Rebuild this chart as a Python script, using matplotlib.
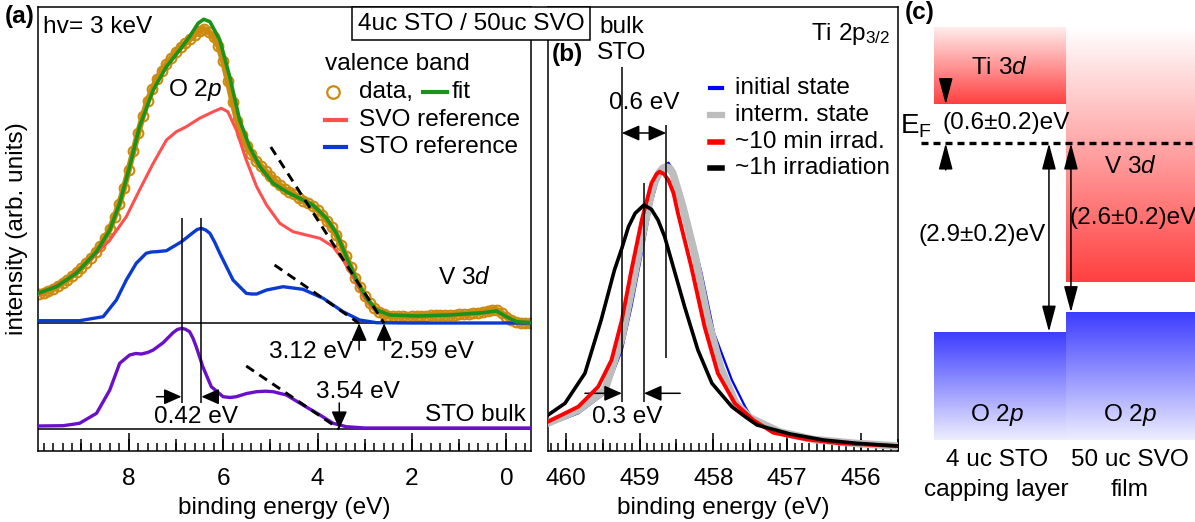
import numpy as np
import matplotlib
matplotlib.use('Agg')
import matplotlib.pyplot as plt
from matplotlib.colors import LinearSegmentedColormap
from matplotlib.patches import Rectangle
from matplotlib.ticker import MultipleLocator

plt.rcParams['font.family'] = ['Liberation Sans', 'DejaVu Sans']
plt.rcParams['font.size'] = 17.6
plt.rcParams['mathtext.fontset'] = 'custom'
plt.rcParams['mathtext.rm'] = 'Liberation Sans'
plt.rcParams['mathtext.it'] = 'Liberation Sans:italic'
plt.rcParams['mathtext.bf'] = 'Liberation Sans:bold'

# ---------------- (a) valence band ----------------
vb_data_E = [9.9, 9.8, 9.7, 9.6, 9.5, 9.4, 9.3, 9.2, 9.1, 9.0, 8.9, 8.8, 8.7, 8.6, 8.5, 8.4,
             8.3, 8.2, 8.1, 8.0, 7.9, 7.8, 7.7, 7.6, 7.5, 7.4, 7.3, 7.2, 7.1, 7.0, 6.9, 6.8,
             6.7, 6.6, 6.5, 6.4, 6.3, 6.2, 6.1, 6.0, 5.9, 5.8, 5.7, 5.6, 5.5, 5.4, 5.3, 5.2,
             5.1, 5.0, 4.9, 4.8, 4.7, 4.6, 4.5, 4.4, 4.3, 4.2, 4.1, 4.0, 3.9, 3.8, 3.7, 3.6,
             3.5, 3.4, 3.3, 3.2, 3.1, 3.0, 2.9, 2.8, 2.7, 2.6, 2.5, 2.4, 2.3, 2.2, 2.1, 2.0,
             1.9, 1.8, 1.7, 1.6, 1.5, 1.4, 1.3, 1.2, 1.1, 1.0, 0.9, 0.8, 0.7, 0.6, 0.5, 0.4,
             0.3, 0.2, 0.1, 0.0, -0.1, -0.2, -0.3, -0.4, -0.5]
vb_data_I = [157, 158, 160, 162, 165, 168, 171, 175, 179, 183, 188, 193, 199, 205, 213, 222,
             234, 247, 263, 281, 300, 318, 335, 350, 362, 372, 380, 387, 393, 399, 404, 408,
             412, 416, 420, 422, 419, 414, 405, 390, 370, 349, 330, 316, 305, 297, 290, 285,
             280, 275, 270, 266, 262, 259, 257, 253, 250, 248, 245, 241, 236, 230, 224, 216,
             206, 195, 184, 173, 164, 155, 148, 143, 139, 137, 135, 135, 135, 135, 134, 135,
             135, 135, 135, 136, 136, 136, 136, 136, 136, 137, 137, 137, 138, 138, 139, 140,
             141, 141, 138, 134, 131, 129, 128, 128, 128]

fit_E = [9.92, 9.53, 9.11, 8.68, 8.40, 8.19, 7.98, 7.77, 7.48, 7.20, 6.92, 6.71, 6.53, 6.41,
         6.28, 6.07, 5.86, 5.65, 5.44, 5.22, 4.94, 4.66, 4.38, 4.10, 3.81, 3.60, 3.39, 3.18,
         2.96, 2.75, 2.47, 1.90, 1.20, 0.49, 0.21, 0.00, -0.21, -0.52]
fit_I = [157.7, 164.3, 177.7, 199.3, 221, 247.7, 284.3, 324.3, 361, 384.3, 401, 414.3, 427.7,
         431.7, 429.3, 411, 374.3, 331, 304.3, 284.3, 267.7, 259.3, 252.7, 246, 232.7, 217.7,
         194.3, 171, 152.7, 141, 136, 135, 136, 138.3, 140, 134.3, 129.3, 128.3]

svo_E = [9.92, 9.32, 8.82, 8.40, 8.05, 7.77, 7.48, 7.20, 6.99, 6.78, 6.50, 6.21, 6.04, 5.90,
         5.72, 5.51, 5.29, 5.08, 4.80, 4.52, 4.24, 3.95, 3.67, 3.46, 3.25, 3.04, 2.82, 2.47,
         1.90, 1.20, 0.49, 0.21, 0.00, -0.21, -0.52]
svo_I = [156, 171, 191, 211, 234.3, 261, 287.7, 311, 319.3, 324.3, 332.7, 339.3, 342.7, 339.3,
         321, 291, 264.3, 246, 227.7, 219.3, 216, 212.7, 204.3, 191, 174.3, 156, 142.7, 136,
         135, 136, 138.3, 140, 134.3, 129.3, 128.3]

sto_ref_E = [9.92, 9.04, 8.54, 8.26, 8.05, 7.84, 7.63, 7.52, 7.41, 7.20, 6.88, 6.64, 6.55,
             6.46, 6.37, 6.28, 6.18, 6.07, 5.79, 5.51, 5.40, 5.29, 5.08, 4.73, 4.31, 3.88,
             3.46, 3.11, 2.75, 2.0, 1.0, 0.0, -0.52]
sto_ref_I = [130.3, 130.3, 134.3, 151, 171, 187.7, 197.7, 199, 199.3, 200.3, 209.3, 218.3,
             221.5, 222.7, 221, 217.7, 209, 197.7, 171, 157.7, 157, 157, 161, 164.3, 161.7,
             152.7, 139.3, 131, 128.3, 128, 128, 128, 128]

sto_bulk_E = [9.92, 9.39, 9.04, 8.68, 8.40, 8.19, 7.98, 7.85, 7.73, 7.60, 7.48, 7.27, 7.06,
              6.97, 6.88, 6.80, 6.71, 6.64, 6.57, 6.43, 6.25, 6.00, 5.85, 5.72, 5.50, 5.29,
              5.10, 4.94, 4.66, 4.31, 3.95, 3.67, 3.39, 3.0, 2.0, 1.0, 0.0, -0.52]
sto_bulk_I = [25, 25.3, 27.7, 37.7, 61, 87.7, 96, 97.5, 97, 98.5, 101, 108.3, 118.3, 121.5,
              122.7, 121.8, 119.3, 113, 104.3, 84.3, 64.3, 54.3, 53.5, 54.3, 57.5, 59.3, 59.8,
              59.3, 56, 46, 36, 27.7, 24.3, 23, 23, 23, 23, 23]

film_base = 127.7      # zero line under the film / reference spectra
bulk_base = 22.0       # zero line under the STO bulk spectrum

vbm_film = 2.59        # leading edge of film valence band
vbm_sto_ref = 3.12
vbm_sto_bulk = 3.54
film_tangent_top = (4.99, 304.0)
sto_ref_tangent_top = (4.91, 186.0)
sto_bulk_tangent_top = (5.51, 85.0)

peak_bulk = 6.88
peak_shift = 0.42

# ---------------- (b) Ti 2p3/2 ----------------
ti_1h_E = [460.24, 460.01, 459.74, 459.52, 459.34, 459.24, 459.15, 459.06, 458.94, 458.84,
           458.75, 458.66, 458.57, 458.39, 458.21, 458.02, 457.75, 457.57, 457.41, 456.96,
           456.51, 456.06, 455.51]
ti_1h_I = [36, 47.7, 77.7, 131, 181, 202.7, 224.3, 237.7, 246, 241.7, 231, 214.3, 191, 144.3,
           101, 67.7, 44.3, 34.3, 26, 17, 11, 7.7, 5]

ti_10min_E = [460.24, 459.83, 459.56, 459.38, 459.24, 459.11, 458.97, 458.84, 458.77, 458.73,
              458.67, 458.61, 458.54, 458.48, 458.30, 458.12, 457.94, 457.71, 457.46, 457.19,
              456.74, 456.29, 455.51]
ti_10min_I = [29.3, 44.3, 64.3, 91, 131, 181, 231, 267.7, 277, 279.3, 277, 271, 257.7, 237.7,
              184.3, 124.3, 77.7, 47.7, 31, 18.3, 11.7, 7.7, 5]

ti_init_E = [460.24, 459.83, 459.47, 459.24, 459.11, 458.97, 458.84, 458.73, 458.67, 458.61,
             458.54, 458.48, 458.35, 458.16, 457.99, 457.75, 457.57, 457.46, 457.10, 456.65,
             456.06, 455.51]
ti_init_I = [26, 37.7, 57.7, 101, 144.3, 197.7, 247.7, 277.7, 285, 288.3, 281, 267.7, 234.3,
             177.7, 117.7, 71, 44.3, 31, 19.3, 11.7, 7, 5]

ti_interm_E = [460.24, 459.83, 459.47, 459.24, 459.11, 458.97, 458.84, 458.80, 458.73, 458.68,
               458.64, 458.60, 458.55, 458.42, 458.25, 458.08, 457.90, 457.70, 457.50, 457.10,
               456.65, 456.06, 455.51]
ti_interm_I = [28, 41, 61, 113, 161, 213, 258, 268, 279, 283, 284, 283, 278, 246, 196, 133,
               83, 48, 33, 19, 11.5, 7.5, 5]

ti_bulk = 459.24
ti_shift_init = 0.6
ti_shift_1h = 0.3

# ---------------- (c) band diagram (eV, E_F = 0) ----------------
ti3d_offset = 0.6
vbo_cap = 2.9
vbo_film = 2.6

W, H = 1195, 522
orange = '#cc8a0e'
green = '#1a931a'
svo_red = '#ff5050'
sto_blue = '#0a3ad0'
purple = '#6a10c8'


def px_box(left, top, right, bottom):
    return [left / W, 1 - bottom / H, (right - left) / W, (bottom - top) / H]


def arrow(ax, start, end, style='-|>'):
    ax.annotate('', xy=end, xytext=start,
                arrowprops=dict(arrowstyle=style + ',head_length=0.43,head_width=0.19',
                                mutation_scale=25, lw=1.1, color='k',
                                shrinkA=0, shrinkB=0))


def energy_ticks(ax, major, medium, minor):
    ax.xaxis.set_major_locator(MultipleLocator(major))
    ax.xaxis.set_minor_locator(MultipleLocator(minor))
    ax.tick_params(axis='x', which='major', direction='in', length=13, width=1.1, pad=12)
    ax.tick_params(axis='x', which='minor', direction='in', length=5.5, width=1.1)
    ax.set_yticks([])
    sec = ax.secondary_xaxis('bottom')
    sec.xaxis.set_major_locator(MultipleLocator(medium))
    sec.tick_params(direction='in', length=8.5, width=1.1, labelbottom=False)
    sec.spines['bottom'].set_visible(False)
    for s in ax.spines.values():
        s.set_linewidth(1.1)


fig = plt.figure(figsize=(W / 100, H / 100), dpi=100)

# ================= panel (a) =================
ax = fig.add_axes(px_box(38, 7, 531, 451))
ax.set_xlim(9.92, -0.52)
ax.set_ylim(0, 444)
energy_ticks(ax, 2, 1, 0.2)
ax.set_xlabel('binding energy (eV)', labelpad=5)

ax.axhline(film_base, color='k', lw=1.1, zorder=1)
ax.axhline(bulk_base, color='k', lw=1.1, zorder=1)

ax.plot(vb_data_E, vb_data_I, color=orange, lw=4.5, zorder=2)
ax.plot(vb_data_E, vb_data_I, 'o', ms=7, mfc='none', mec=orange, mew=1.5, zorder=2)
ax.plot(svo_E, svo_I, color=svo_red, lw=2.2, zorder=3)
ax.plot(fit_E, fit_I, color=green, lw=2.6, zorder=4)
ax.plot(sto_ref_E, sto_ref_I, color=sto_blue, lw=2.4, zorder=3)
ax.plot(sto_bulk_E, sto_bulk_I, color=purple, lw=2.4, zorder=3)

dash = (0, (3.2, 2.2))
ax.plot([film_tangent_top[0], vbm_film], [film_tangent_top[1], film_base],
        color='k', lw=2.1, ls=dash, zorder=5)
ax.plot([sto_ref_tangent_top[0], vbm_sto_ref], [sto_ref_tangent_top[1], film_base],
        color='k', lw=2.1, ls=dash, zorder=5)
ax.plot([sto_bulk_tangent_top[0], vbm_sto_bulk], [sto_bulk_tangent_top[1], bulk_base],
        color='k', lw=2.1, ls=dash, zorder=5)

arrow(ax, (vbm_sto_ref, 101), (vbm_sto_ref, film_base))
arrow(ax, (vbm_film, 101), (vbm_film, film_base))
arrow(ax, (vbm_sto_bulk, 48), (vbm_sto_bulk, bulk_base))
ax.text(vbm_sto_ref + 0.12, 99, '%.2f eV' % vbm_sto_ref, ha='right', va='center')
ax.text(vbm_film - 0.12, 99, '%.2f eV' % vbm_film, ha='left', va='center')
ax.text(3.15, 59, '%.2f eV' % vbm_sto_bulk, ha='center', va='center')

peak_film = peak_bulk - peak_shift
ax.vlines([peak_bulk, peak_film], 48, 233, color='k', lw=1.1, zorder=6)
arrow(ax, (7.41, 54.3), (peak_bulk, 54.3))
arrow(ax, (6.14, 54.3), (peak_film, 54.3))
ax.text(6.57, 34, '%.2f eV' % peak_shift, ha='center', va='center')

ax.text(6.60, 361, 'O 2$p$', ha='center', va='center')
ax.text(0.88, 173, 'V 3$d$', ha='center', va='center')
ax.text(0.99, 0.081, 'STO bulk', transform=ax.transAxes, ha='right', va='center')
ax.text(0.01, 0.955, 'hv= 3 keV', transform=ax.transAxes, ha='left', va='center')

# hand-built legend
ax.text(0.582, 0.872, 'valence band', transform=ax.transAxes, ha='left', va='center')
ax.plot([0.598], [0.809], 'o', ms=9, mfc='none', mec=orange, mew=1.6, transform=ax.transAxes)
ax.text(0.651, 0.809, 'data,', transform=ax.transAxes, ha='left', va='center')
ax.plot([0.781, 0.830], [0.809, 0.809], color=green, lw=3, transform=ax.transAxes)
ax.text(0.838, 0.809, 'fit', transform=ax.transAxes, ha='left', va='center')
ax.plot([0.582, 0.625], [0.745, 0.745], color=svo_red, lw=3, transform=ax.transAxes)
ax.text(0.651, 0.745, 'SVO reference', transform=ax.transAxes, ha='left', va='center')
ax.plot([0.582, 0.625], [0.685, 0.685], color=sto_blue, lw=3, transform=ax.transAxes)
ax.text(0.651, 0.685, 'STO reference', transform=ax.transAxes, ha='left', va='center')

# ================= panel (b) =================
bx = fig.add_axes(px_box(548, 7, 898, 451))
bx.set_xlim(460.24, 455.5)
bx.set_ylim(0, 444)
energy_ticks(bx, 1, 0.5, 0.1)
bx.set_xlabel('binding energy (eV)', labelpad=5)

bx.plot(ti_init_E, ti_init_I, color='#0000ff', lw=1.6, zorder=2)
bx.plot(ti_interm_E, ti_interm_I, color='#bdbdbd', lw=5.5, zorder=3)
bx.plot(ti_10min_E, ti_10min_I, color='#ff0000', lw=2.8, zorder=4)
bx.plot(ti_1h_E, ti_1h_I, color='k', lw=2.6, zorder=5)

ti_init_peak = ti_bulk - ti_shift_init
ti_1h_peak = ti_bulk - ti_shift_1h
bx.vlines(ti_bulk, 49, 384, color='k', lw=1.1, zorder=6)
bx.vlines(ti_init_peak, 93, 326, color='k', lw=1.1, zorder=6)
bx.vlines(ti_1h_peak, 49, 268, color='k', lw=1.1, zorder=6)
arrow(bx, (ti_bulk, 318), (ti_init_peak, 318), style='<|-|>')
bx.text((ti_bulk + ti_init_peak) / 2, 348, '%.1f eV' % ti_shift_init, ha='center', va='center')
arrow(bx, (459.74, 57.7), (ti_bulk, 57.7))
arrow(bx, (458.45, 57.7), (ti_1h_peak, 57.7))
bx.text(459.17, 34, '%.1f eV' % ti_shift_1h, ha='center', va='center')

bx.text(ti_bulk, 424, 'bulk', ha='center', va='center')
bx.text(ti_bulk, 398, 'STO', ha='center', va='center')
bx.text(0.977, 0.94, 'Ti 2p$_{3/2}$', transform=bx.transAxes, ha='right', va='center')

b_legend = [('#0000ff', 3, 'initial state'), ('#bdbdbd', 4.5, 'interm. state'),
            ('#ff0000', 4, '~10 min irrad.'), ('k', 4, '~1h irradiation')]
for i, (c, lw, lab) in enumerate(b_legend):
    yy = 0.818 - i * 0.0605
    bx.plot([0.463, 0.497], [yy, yy], color=c, lw=lw, transform=bx.transAxes)
    bx.text(0.534, yy, lab, transform=bx.transAxes, ha='left', va='center')

# ================= panel (c) =================
cx = fig.add_axes(px_box(900, 0, 1195, 522))
red_cmap = LinearSegmentedColormap.from_list('cb', ['#ff4040', '#ffffff'])
blue_cmap = LinearSegmentedColormap.from_list('vb', ['#3c3cff', '#eeeeff'])
band_top = 1.77
o2p_bottom = -4.56
v3d_bottom = -2.14
grad = np.linspace(0, 1, 256).reshape(-1, 1)
cx.imshow(grad * 0.9, extent=[0, 1, ti3d_offset, band_top], origin='lower', cmap=red_cmap,
          vmin=0, vmax=1, aspect='auto', interpolation='bilinear')
cx.imshow(grad, extent=[1, 2, v3d_bottom, band_top], origin='lower', cmap=red_cmap,
          vmin=0, vmax=1, aspect='auto', interpolation='bilinear')
cx.imshow(grad[::-1], extent=[0, 1, o2p_bottom, -vbo_cap], origin='lower', cmap=blue_cmap,
          vmin=0, vmax=1, aspect='auto', interpolation='bilinear')
cx.imshow(grad[::-1], extent=[1, 2, o2p_bottom, -vbo_film], origin='lower', cmap=blue_cmap,
          vmin=0, vmax=1, aspect='auto', interpolation='bilinear')
cx.set_xlim(-0.258, 1.982)
cx.set_ylim(-5.826, 2.205)
cx.axis('off')

cx.plot([-0.095, 2], [0, 0], color='k', lw=2.4, ls=(0, (2.1, 1.5)))
head = '-|>,head_length=0.45,head_width=0.12'
both = '<|-|>,head_length=0.45,head_width=0.12'
x_gap = 0.089
for start, end, style in [((x_gap, 0.974), (x_gap, ti3d_offset), head),
                          ((x_gap, -0.41), (x_gap, 0), head),
                          ((0.873, 0), (0.873, -vbo_cap), both),
                          ((1.04, 0), (1.04, -vbo_film), both)]:
    cx.annotate('', xy=end, xytext=start,
                arrowprops=dict(arrowstyle=style, mutation_scale=36, lw=1.1, color='k',
                                shrinkA=0, shrinkB=0))

cx.text(0.5, 1.158, 'Ti 3$d$', ha='center', va='center')
cx.text(1.488, -0.36, 'V 3$d$', ha='center', va='center')
cx.text(-0.137, 0.27, 'E$_\\mathrm{F}$', ha='center', va='center', fontsize=20)
cx.text(0.547, 0.308, '(%.1f±0.2)eV' % ti3d_offset, ha='center', va='center')
cx.text(0.362, -1.41, '(%.1f±0.2)eV' % vbo_cap, ha='center', va='center')
cx.text(1.511, -1.149, '(%.1f±0.2)eV' % vbo_film, ha='center', va='center')
cx.text(0.477, -4.18, 'O 2$p$', ha='center', va='center')
cx.text(1.488, -4.18, 'O 2$p$', ha='center', va='center')
cx.text(0.477, -4.87, '4 uc STO', ha='center', va='center')
cx.text(0.477, -5.33, 'capping layer', ha='center', va='center')
cx.text(1.488, -4.87, '50 uc SVO', ha='center', va='center')
cx.text(1.488, -5.33, 'film', ha='center', va='center')

# ================= figure-level labels =================
fig.text(17 / W, 1 - 229 / H, 'intensity (arb. units)', rotation=90, ha='center', va='center')
fig.text(20 / W, 1 - 16 / H, '(a)', fontweight='bold', ha='center', va='center')
fig.text(567 / W, 1 - 55 / H, '(b)', fontweight='bold', ha='center', va='center')
fig.text(920 / W, 1 - 13 / H, '(c)', fontweight='bold', ha='center', va='center')

box = Rectangle((351.7 / W, 1 - 40 / H), (590 - 351.7) / W, 33 / H,
                transform=fig.transFigure, facecolor='white', edgecolor='k', lw=1.1, zorder=10)
fig.add_artist(box)
fig.text(471 / W, 1 - 23.5 / H, '4uc STO / 50uc SVO', ha='center', va='center', zorder=11)

fig.savefig('out.png', dpi=100)
